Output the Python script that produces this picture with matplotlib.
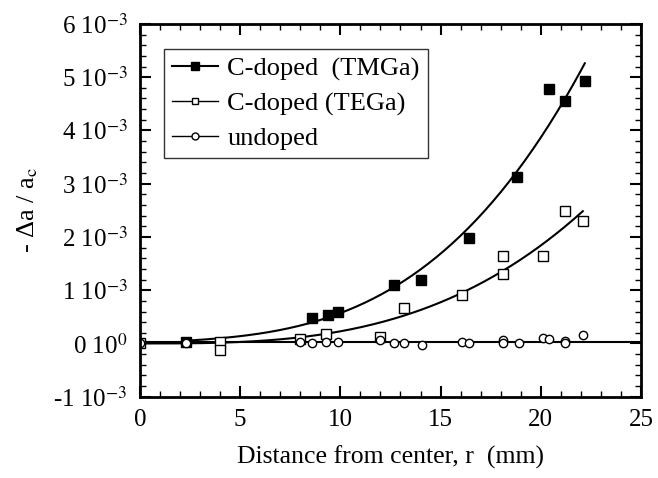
import numpy as np
import matplotlib.pyplot as plt
from matplotlib.ticker import MultipleLocator, FuncFormatter

plt.rcParams['font.family'] = ['Liberation Serif', 'DejaVu Serif']
plt.rcParams['mathtext.fontset'] = 'stix'
plt.rcParams['axes.unicode_minus'] = False

# C-doped (TMGa), filled squares, values in units of 1e-3
tmga_r = [2.3, 8.6, 9.4, 9.9, 12.7, 14.0, 16.4, 18.8, 20.4, 21.2, 22.2]
tmga_y = [0.02, 0.47, 0.54, 0.60, 1.10, 1.19, 1.98, 3.13, 4.78, 4.56, 4.92]

# C-doped (TEGa), open squares
tega_r = [0.0, 4.0, 4.0, 8.0, 9.3, 12.0, 13.2, 16.05, 18.1, 18.1, 20.1, 21.2, 22.1]
tega_y = [0.0, 0.02, -0.12, 0.08, 0.18, 0.13, 0.67, 0.91, 1.30, 1.64, 1.64, 2.49, 2.30]

# undoped, open circles
und_r = [0.0, 2.3, 8.0, 8.6, 9.3, 9.9, 12.0, 12.7, 13.2, 14.05, 16.05, 16.4,
         18.1, 18.1, 18.9, 20.1, 20.4, 21.2, 21.2, 22.1]
und_y = [0.0, 0.01, 0.03, 0.0, 0.03, 0.03, 0.06, 0.01, 0.0, -0.02, 0.03, 0.01,
         0.06, 0.01, 0.01, 0.10, 0.08, 0.05, 0.01, 0.15]

fig = plt.figure(figsize=(6.58, 4.78), dpi=100)
ax = fig.add_axes([0.2128, 0.170, 0.7612, 0.780])

sc = 1e-3

# TMGa: cubic fit
p1 = np.polyfit(tmga_r, tmga_y, 3)
xs1 = np.linspace(min(tmga_r), max(tmga_r), 200)
y1 = np.polyval(p1, xs1)

# TEGa: power law fit y = a * r^n (least squares, scan n)
r2 = np.array(tega_r)
v2 = np.array(tega_y)
best = None
for n in np.arange(1.0, 6.0, 0.01):
    xn = r2 ** n
    a = np.sum(v2 * xn) / np.sum(xn * xn)
    err = np.sum((v2 - a * xn) ** 2)
    if best is None or err < best[0]:
        best = (err, a, n)
xs2 = np.linspace(min(tega_r), max(tega_r), 200)
y2 = best[1] * xs2 ** best[2]

# undoped: constant
p3 = np.polyfit(und_r, und_y, 0)
xs3 = np.linspace(0, 25, 50)

ax.plot(xs1, y1 * sc, color='black', lw=1.5)
ax.plot(xs2, y2 * sc, color='black', lw=1.5)
ax.plot(xs3, np.polyval(p3, xs3) * sc, color='black', lw=1.5)

ax.plot(tmga_r, np.array(tmga_y) * sc, 's', color='black', ms=6.5, mec='black')
ax.plot(tega_r, np.array(tega_y) * sc, 's', mfc='white', mec='black', ms=6.5, mew=1.0)
ax.plot(und_r, np.array(und_y) * sc, 'o', mfc='white', mec='black', ms=6, mew=1.0)

# legend handles
h1, = ax.plot([], [], '-s', color='black', ms=5.5, lw=1.5)
h2, = ax.plot([], [], '-s', color='black', mfc='white', ms=5, lw=1.0, mew=1.0)
h3, = ax.plot([], [], '-o', color='black', mfc='white', ms=5, lw=1.0, mew=1.0)
leg = ax.legend([h1, h2, h3], ['C-doped  (TMGa)', 'C-doped (TEGa)', 'undoped'],
                loc='upper left', bbox_to_anchor=(0.048, 0.933), fontsize=19,
                frameon=True, fancybox=False, handlelength=1.75, handletextpad=0.35,
                borderpad=0.3, labelspacing=0.42, borderaxespad=0)
leg.get_frame().set_edgecolor('black')
leg.get_frame().set_linewidth(1.0)

ax.set_xlim(0, 25)
ax.set_ylim(-1e-3, 6e-3)
ax.xaxis.set_major_locator(MultipleLocator(5))
ax.xaxis.set_minor_locator(MultipleLocator(1))
ax.yaxis.set_major_locator(MultipleLocator(1e-3))
ax.yaxis.set_minor_locator(MultipleLocator(0.2e-3))


def yfmt(v, pos):
    n = int(round(v / sc))
    if n == 0:
        return '0 10$^{0}$'
    return f'{n} 10$^{{-3}}$'


ax.yaxis.set_major_formatter(FuncFormatter(yfmt))
ax.tick_params(which='both', direction='in', top=True, right=True, labelsize=18, pad=9)
ax.tick_params(which='major', length=8, width=1.5)
ax.tick_params(which='minor', length=4, width=1.0)
for s in ax.spines.values():
    s.set_linewidth(2)

ax.set_xlabel('Distance from center, r  (mm)', fontsize=18.5, labelpad=10)
ax.set_ylabel('- Δa / a$_{\\rm c}$', fontsize=19, labelpad=10)

fig.savefig('out.png', dpi=100)
